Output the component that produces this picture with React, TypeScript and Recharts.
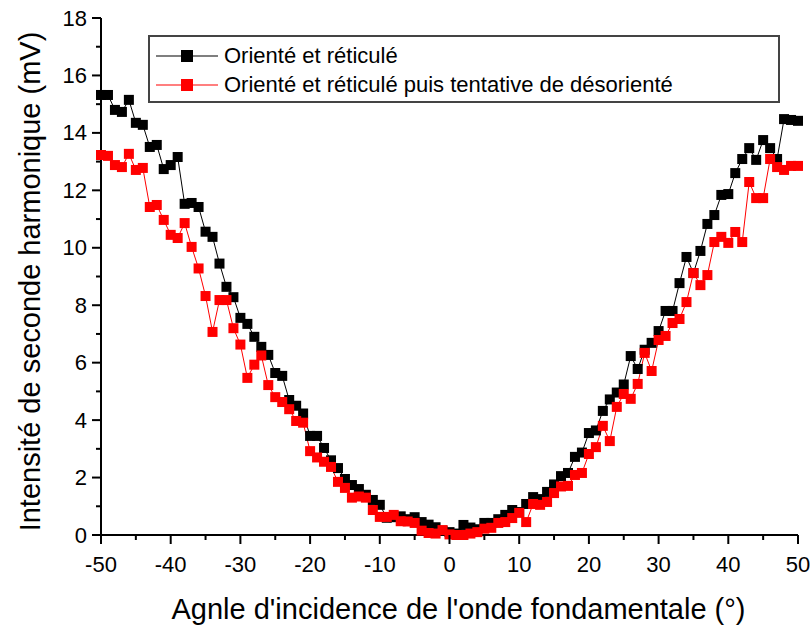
import React from 'react';
import { LineChart, Line, XAxis, YAxis, Legend } from 'recharts';

const angles: number[] = [];
for (let a = -50; a <= 50; a++) angles.push(a);

const seriesOriente: number[] = [
  15.32, 15.32, 14.8, 14.73, 15.15, 14.35, 14.28, 13.51, 13.58, 12.74,
  12.88, 13.16, 11.53, 11.56, 11.42, 10.56, 10.38, 9.45, 8.64, 8.28,
  7.56, 7.35, 6.9, 6.55, 6.27, 5.64, 5.54, 4.7, 4.5, 4.23,
  3.45, 3.45, 3.03, 2.6, 2.33, 1.95, 1.74, 1.6, 1.4, 1.22,
  1.05, 0.6, 0.62, 0.65, 0.55, 0.62, 0.45, 0.36, 0.27, 0.15,
  0.1,
  0.05, 0.35, 0.26, 0.2, 0.42, 0.42, 0.55, 0.7, 0.87, 0.8,
  1.08, 1.32, 1.25, 1.5, 1.76, 2.05, 2.16, 2.72, 2.87, 3.55,
  3.64, 4.32, 4.72, 4.96, 5.24, 6.23, 5.78, 6.45, 6.69, 7.1,
  7.8, 7.8, 8.77, 9.68, 9.12, 9.89, 10.83, 11.14, 11.84, 11.87,
  12.6, 13.09, 13.47, 13.06, 13.75, 13.47, 13.09, 14.48, 14.45, 14.42,
];

const seriesDesoriente: number[] = [
  13.23, 13.2, 12.88, 12.81, 13.27, 12.71, 12.78, 11.42, 11.49, 10.97,
  10.45, 10.34, 10.86, 10.03, 9.28, 8.32, 7.07, 8.18, 8.18, 7.2,
  6.63, 5.47, 5.93, 6.25, 5.22, 4.8, 4.63, 4.38, 3.97, 3.91,
  2.92, 2.7, 2.55, 2.37, 1.85, 1.64, 1.3, 1.34, 1.3, 0.87,
  0.63, 0.63, 0.7, 0.48, 0.47, 0.42, 0.15, 0.07, 0.05, 0.17,
  0.02,
  0.0, 0.0, 0.05, 0.1, 0.22, 0.25, 0.42, 0.45, 0.59, 0.77,
  0.45, 1.08, 1.05, 1.15, 1.46, 1.69, 1.71, 2.09, 2.16, 2.82,
  3.06, 3.8, 3.27, 4.46, 4.91, 4.74, 5.26, 6.34, 5.71, 6.79,
  6.93, 7.38, 7.52, 8.11, 9.12, 8.7, 9.05, 10.2, 10.38, 10.17,
  10.55, 10.2, 12.29, 11.73, 11.73, 13.09, 12.81, 12.71, 12.85, 12.85,
];

const xTicks = [-50, -45, -40, -35, -30, -25, -20, -15, -10, -5, 0, 5, 10, 15, 20, 25, 30, 35, 40, 45, 50];
const xMajorTicks = [-50, -40, -30, -20, -10, 0, 10, 20, 30, 40, 50];
const yTicks = [0, 1, 2, 3, 4, 5, 6, 7, 8, 9, 10, 11, 12, 13, 14, 15, 16, 17, 18];
const yMajorTicks = [0, 2, 4, 6, 8, 10, 12, 14, 16, 18];

const seriesNames = ['Orienté et réticulé', 'Orienté et réticulé puis tentative de désorienté'];
const seriesColors = ['#000000', '#ff0000'];
const xTitle = "Agnle d'incidence de l'onde fondamentale (°)";
const yTitle = 'Intensité de seconde harmonique (mV)';

const data = angles.map((a, i) => ({ x: a, s1: seriesOriente[i], s2: seriesDesoriente[i] }));

const FONT = "'Liberation Sans', Arial, Helvetica, sans-serif";

const Square = (color: string, size: number) => (props: any) => {
  const { cx, cy, index } = props;
  if (cx == null || cy == null) return <g key={index} />;
  return <rect key={index} x={cx - size / 2} y={cy - size / 2} width={size} height={size} fill={color} />;
};

const YTickLeft = (props: any) => {
  const { x, y, payload } = props;
  const v = payload.value;
  const major = v % 2 === 0;
  return (
    <g>
      <line x1={x - (major ? 9 : 5)} x2={x} y1={y} y2={y} stroke="#000" strokeWidth={2} />
      {major && (
        <text x={x - 14} y={y} textAnchor="end" dominantBaseline="central" fontSize={22} fontFamily={FONT} fill="#000">
          {v}
        </text>
      )}
    </g>
  );
};

const XTickBottom = (props: any) => {
  const { x, y, payload } = props;
  const v = payload.value;
  const major = v % 10 === 0;
  return (
    <g>
      <line x1={x} x2={x} y1={y} y2={y + (major ? 9 : 5)} stroke="#000" strokeWidth={2} />
      {major && (
        <text x={x} y={y + 29} textAnchor="middle" dominantBaseline="central" fontSize={22} fontFamily={FONT} fill="#000">
          {v}
        </text>
      )}
    </g>
  );
};

const XTickTop = (props: any) => {
  const { x, y } = props;
  return <line x1={x} x2={x} y1={y} y2={y + 9} stroke="#000" strokeWidth={2} />;
};

const YTickRight = (props: any) => {
  const { x, y } = props;
  return <line x1={x - 9} x2={x} y1={y} y2={y} stroke="#000" strokeWidth={2} />;
};

const LegendBox = () => (
  <div
    style={{
      border: '2px solid #444',
      background: '#fff',
      boxSizing: 'border-box',
      width: 632,
      height: 68,
      padding: '4px 0 0 6px',
      fontFamily: FONT,
      fontSize: 22,
      color: '#000',
    }}
  >
    {seriesNames.map((n, i) => (
      <div key={n} style={{ display: 'flex', alignItems: 'center', height: 29 }}>
        <svg width={66} height={20} style={{ display: 'block' }}>
          <line x1={0} x2={62} y1={10} y2={10} stroke={seriesColors[i]} strokeWidth={1.2} />
          <rect x={25} y={4} width={12} height={12} fill={seriesColors[i]} />
        </svg>
        <span style={{ marginLeft: 2, lineHeight: '22px' }}>{n}</span>
      </div>
    ))}
  </div>
);

export default function App() {
  return (
    <div style={{ position: 'absolute', left: 0, top: 0, width: 812, height: 632, background: '#fff' }}>
      <LineChart width={812} height={632} data={data} margin={{ top: 18, right: 14, left: 0, bottom: 17 }}>
        <XAxis
          xAxisId="b"
          dataKey="x"
          type="number"
          domain={[-50, 50]}
          ticks={xTicks}
          interval={0}
          tickSize={0}
          tickMargin={0}
          tickLine={false}
          height={80}
          axisLine={{ stroke: '#000', strokeWidth: 2 }}
          tick={(p: any) => <XTickBottom {...p} />}
          label={{
            content: (p: any) => {
              const vb = p.viewBox;
              return (
                <text x={vb.x + vb.width / 2 + 9} y={vb.y + 74} textAnchor="middle" dominantBaseline="central" fontSize={29} fontFamily={FONT} fill="#000">
                  {xTitle}
                </text>
              );
            },
          }}
        />
        <XAxis
          xAxisId="t"
          orientation="top"
          dataKey="x"
          type="number"
          domain={[-50, 50]}
          ticks={xMajorTicks}
          interval={0}
          tickSize={0}
          tickMargin={0}
          tickLine={false}
          height={0}
          axisLine={{ stroke: '#000', strokeWidth: 2 }}
          tick={(p: any) => <XTickTop {...p} />}
        />
        <YAxis
          yAxisId="l"
          type="number"
          domain={[0, 18]}
          ticks={yTicks}
          interval={0}
          tickSize={0}
          tickMargin={0}
          tickLine={false}
          width={101}
          axisLine={{ stroke: '#000', strokeWidth: 2 }}
          tick={(p: any) => <YTickLeft {...p} />}
          label={{
            content: (p: any) => {
              const vb = p.viewBox;
              const cx = vb.x + 30;
              const cy = vb.y + vb.height / 2 + 5;
              return (
                <text x={cx} y={cy} transform={`rotate(-90 ${cx} ${cy})`} textAnchor="middle" dominantBaseline="central" fontSize={29} fontFamily={FONT} fill="#000">
                  {yTitle}
                </text>
              );
            },
          }}
        />
        <YAxis
          yAxisId="r"
          orientation="right"
          type="number"
          domain={[0, 18]}
          ticks={yMajorTicks}
          interval={0}
          tickSize={0}
          tickMargin={0}
          tickLine={false}
          width={0}
          axisLine={{ stroke: '#000', strokeWidth: 2 }}
          tick={(p: any) => <YTickRight {...p} />}
        />
        <Legend
          layout="vertical"
          align="center"
          verticalAlign="middle"
          content={() => <LegendBox />}
          wrapperStyle={{ left: 148, top: 35, width: 632, height: 68 }}
        />
        <Line
          xAxisId="b"
          yAxisId="l"
          dataKey="s1"
          name={seriesNames[0]}
          type="linear"
          stroke={seriesColors[0]}
          strokeWidth={1}
          dot={Square(seriesColors[0], 10)}
          activeDot={false}
          isAnimationActive={false}
        />
        <Line
          xAxisId="b"
          yAxisId="l"
          dataKey="s2"
          name={seriesNames[1]}
          type="linear"
          stroke={seriesColors[1]}
          strokeWidth={1}
          dot={Square(seriesColors[1], 10)}
          activeDot={false}
          isAnimationActive={false}
        />
      </LineChart>
    </div>
  );
}
